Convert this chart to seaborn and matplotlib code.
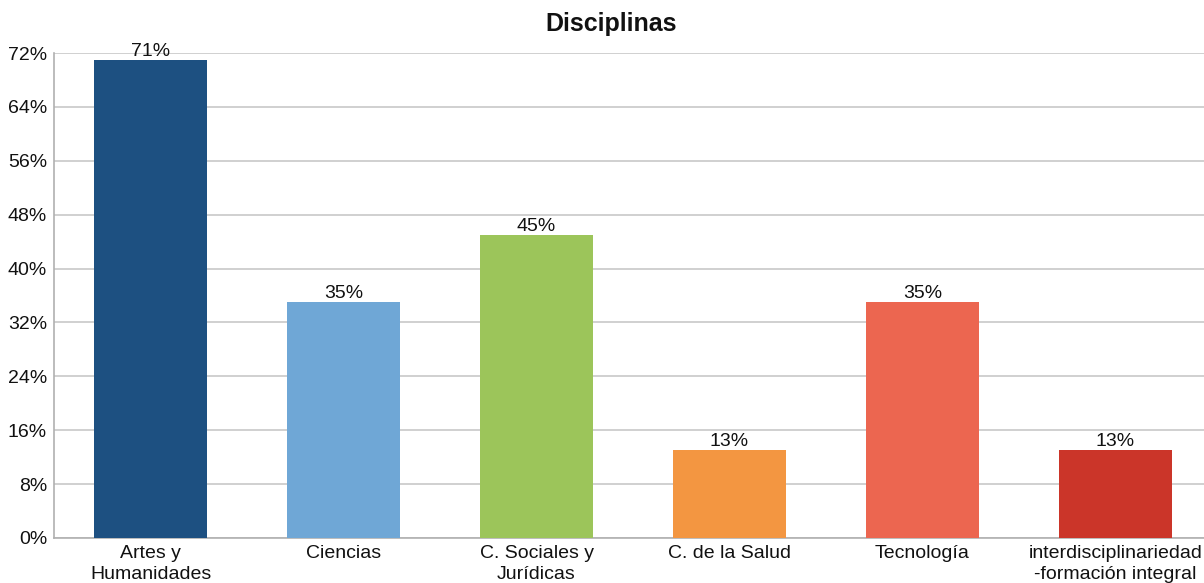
import matplotlib
matplotlib.use("Agg")
import matplotlib.pyplot as plt
import seaborn as sns
import pandas as pd
from matplotlib.ticker import FuncFormatter, MultipleLocator

categories = ["Artes y\nHumanidades", "Ciencias", "C. Sociales y\nJurídicas",
              "C. de la Salud", "Tecnología", "interdisciplinariedad\n-formación integral"]
values = [71, 35, 45, 13, 35, 13]
colors = ["#1d5081", "#6fa7d6", "#9cc55a", "#f39641", "#ec6650", "#cb3529"]

sns.set_theme(style="white")
plt.rcParams["font.family"] = ["Liberation Sans", "DejaVu Sans"]

df = pd.DataFrame({"cat": categories, "val": values})

fig = plt.figure(figsize=(12.04, 5.83), dpi=100)
ax = fig.add_axes([54 / 1204, 45 / 583, 1158 / 1204, 485 / 583])

sns.barplot(data=df, x="cat", y="val", hue="cat", palette=colors, legend=False,
            width=0.59, ax=ax, saturation=1, linewidth=0, zorder=3)

ax.set_ylim(0, 72)
ax.set_xlim(-0.5, 5.5)
ax.yaxis.set_major_locator(MultipleLocator(8))
ax.yaxis.set_major_formatter(FuncFormatter(lambda v, _: f"{int(v)}%"))
ax.grid(axis="y", color="#c8c8c8", linewidth=1.2, zorder=0)
ax.set_axisbelow(True)
ax.set_xlabel("")
ax.set_ylabel("")
for side in ["top", "right"]:
    ax.spines[side].set_visible(False)
for side in ["left", "bottom"]:
    ax.spines[side].set_color("#b0b0b0")
    ax.spines[side].set_linewidth(1.2)
ax.tick_params(axis="both", length=0, labelsize=14, colors="#111111")
ax.tick_params(axis="y", pad=5)
ax.tick_params(axis="x", pad=5)
for lbl in ax.get_xticklabels():
    lbl.set_linespacing(1.3)

for container in ax.containers:
    ax.bar_label(container, labels=[f"{v:.0f}%" for v in container.datavalues],
                 fontsize=14, padding=0, color="#111111")

fig.text(611 / 1204, 1 - 24 / 583, "Disciplinas", ha="center", va="center",
         fontsize=18, fontweight="bold", color="#111111")

fig.savefig("out.png", dpi=100)
